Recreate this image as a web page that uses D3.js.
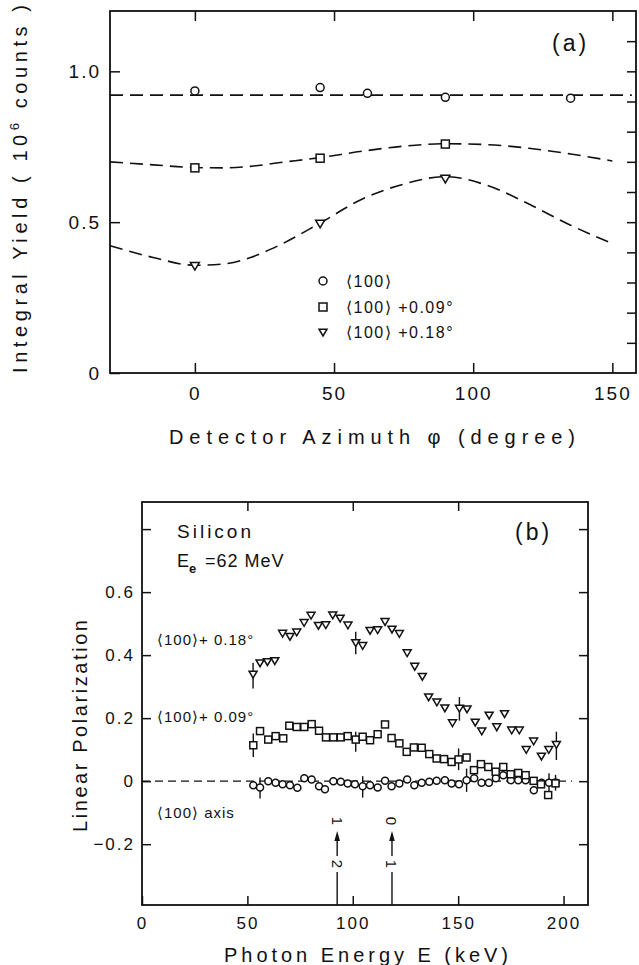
<!DOCTYPE html>
<html>
<head>
<meta charset="utf-8">
<script src="https://cdn.jsdelivr.net/npm/d3@7.9.0/dist/d3.min.js"></script>
<style>
  body { margin: 0; background: #fff; }
  svg { display: block; }
  text { font-family: "Liberation Sans", Arial, sans-serif; fill: #111; }
</style>
</head>
<body>
<svg id="chart" width="639" height="965"></svg>
<script>
// ---- panel (a): integral yield vs detector azimuth ----
const phiAxis = [0, 45, 62, 90, 135];
const yieldAxis = [0.935, 0.946, 0.927, 0.914, 0.911];
const phiTilt = [0, 45, 90];
const yield009 = [0.680, 0.712, 0.759];
const yield018 = [0.356, 0.496, 0.645];

// dashed fit curves
const fitPhiAxis = [-30.5, 157];
const fitAxis = [0.921, 0.921];
const fitPhi = [-30.5, -15, 0, 10, 20, 30, 45, 60, 75, 90, 105, 120, 135, 150];
const fit009 = [0.700, 0.690, 0.681, 0.680, 0.685, 0.697, 0.714, 0.735, 0.752, 0.760, 0.757, 0.745, 0.726, 0.703];
const fit018 = [0.422, 0.383, 0.357, 0.361, 0.383, 0.422, 0.497, 0.576, 0.626, 0.651, 0.622, 0.560, 0.490, 0.429];

const legendA = ['\u27E8100\u27E9', '\u27E8100\u27E9 +0.09\u00B0', '\u27E8100\u27E9 +0.18\u00B0'];

// ---- panel (b): linear polarization vs photon energy ----
const energy100 = [52.8, 56.0, 59.9, 63.4, 66.7, 70.2, 73.7, 77.0, 80.5, 84.0, 86.8, 90.8, 94.3, 97.6, 101.0, 104.7, 108.2, 111.8, 115.3, 118.4, 122.1, 125.8, 129.2, 132.7, 136.3, 139.8, 143.7, 146.9, 150.4, 154.0, 157.6, 161.1, 164.6, 167.9, 171.4, 175.0, 178.5, 182.0, 185.9, 189.6, 193.1, 196.2];
const pol100 = [-0.013, -0.020, 0.000, -0.005, -0.010, -0.013, -0.021, 0.009, 0.005, -0.016, -0.026, 0.000, -0.002, -0.007, -0.010, -0.016, -0.013, -0.020, 0.001, -0.016, -0.007, 0.005, -0.013, -0.005, -0.002, 0.001, 0.003, -0.007, -0.010, 0.003, 0.009, -0.005, -0.005, 0.009, 0.019, 0.003, 0.003, 0.003, -0.029, -0.005, -0.005, -0.004];

const energy009 = [52.8, 56.0, 59.9, 63.4, 67.0, 69.9, 73.4, 77.0, 80.5, 84.0, 87.3, 90.8, 94.3, 97.6, 101.4, 104.7, 108.2, 111.8, 115.3, 118.4, 122.1, 125.6, 129.0, 132.7, 136.3, 139.8, 143.3, 146.9, 150.2, 154.0, 157.5, 160.8, 164.3, 167.8, 171.4, 174.9, 178.5, 182.0, 185.8, 189.3, 192.7, 196.2];
const pol009 = [0.114, 0.159, 0.132, 0.143, 0.136, 0.176, 0.172, 0.172, 0.181, 0.160, 0.139, 0.139, 0.139, 0.143, 0.132, 0.141, 0.130, 0.149, 0.180, 0.137, 0.120, 0.093, 0.107, 0.106, 0.086, 0.072, 0.070, 0.061, 0.069, 0.075, 0.035, 0.054, 0.045, 0.030, 0.045, 0.022, 0.026, 0.019, 0.001, -0.010, -0.044, -0.007];

const energy018 = [52.7, 56.0, 59.5, 63.0, 66.7, 70.2, 73.4, 76.9, 80.2, 83.7, 87.2, 90.5, 94.0, 97.7, 101.4, 104.7, 108.2, 111.8, 115.3, 118.6, 122.1, 125.8, 129.4, 133.0, 136.0, 139.9, 143.7, 147.3, 150.6, 154.2, 158.1, 161.2, 164.7, 168.3, 172.0, 175.4, 179.0, 182.3, 185.8, 189.5, 193.0, 196.6];
const pol018 = [0.340, 0.376, 0.380, 0.383, 0.470, 0.460, 0.474, 0.504, 0.527, 0.495, 0.497, 0.528, 0.518, 0.496, 0.440, 0.431, 0.479, 0.481, 0.507, 0.483, 0.469, 0.408, 0.365, 0.333, 0.268, 0.252, 0.233, 0.186, 0.232, 0.230, 0.188, 0.160, 0.210, 0.173, 0.215, 0.163, 0.163, 0.101, 0.128, 0.080, 0.101, 0.117];

// error bars: [energy, low, high]
const err100 = [[56.0, -0.055, 0.012], [104.7, -0.052, 0.016], [154.0, -0.034, 0.040], [193.1, -0.050, 0.025]];
const err009 = [[52.8, 0.077, 0.151], [101.4, 0.093, 0.157], [150.2, 0.035, 0.104], [196.2, -0.030, 0.020]];
const err018 = [[52.7, 0.294, 0.376], [101.4, 0.403, 0.474], [150.6, 0.192, 0.267], [196.6, 0.067, 0.157]];

const seriesLabelsB = ['\u27E8100\u27E9+ 0.18\u00B0', '\u27E8100\u27E9+ 0.09\u00B0', '\u27E8100\u27E9 axis'];
const seriesLabelPol = [0.449, 0.204, -0.098];

// reflection markers
const arrowEnergy = [92.6, 118.6];
const arrowTop = ['1', '0'];
const arrowBottom = ['2', '1'];

const svg = d3.select('#chart');
const ink = '#111';

// marker helpers
function drawMarkers(g, xs, ys, x, y, kind, s) {
  const pts = xs.map((d, i) => [x(d), y(ys[i])]);
  const sel = g.selectAll(null).data(pts);
  if (kind === 'circle') {
    sel.join('circle').attr('cx', d => d[0]).attr('cy', d => d[1]).attr('r', s / 2);
  } else if (kind === 'square') {
    sel.join('rect').attr('x', d => d[0] - s / 2).attr('y', d => d[1] - s / 2)
      .attr('width', s).attr('height', s);
  } else {
    sel.join('path').attr('d', d =>
      `M${d[0] - s / 2},${d[1] - s * 0.35}L${d[0] + s / 2},${d[1] - s * 0.35}L${d[0]},${d[1] + s * 0.5}Z`);
  }
  g.selectAll('circle,rect,path').attr('fill', '#fff').attr('stroke', ink).attr('stroke-width', 1.5);
}

function styleAxis(g, size) {
  g.select('.domain').remove();
  g.selectAll('line').attr('stroke', ink).attr('stroke-width', 1.5);
  g.selectAll('text').style('font-size', size + 'px').style('letter-spacing', '2px').attr('fill', ink);
}

// ================= panel (a) =================
const xA = d3.scaleLinear().domain([-30.5, 158.5]).range([110, 636]);
const yA = d3.scaleLinear().domain([0, 1.2]).range([373, 11]);
const gA = svg.append('g');

gA.append('g').attr('transform', `translate(0,${yA(0)})`)
  .call(d3.axisBottom(xA).tickValues([0, 50, 100, 150]).tickSizeInner(-10).tickSizeOuter(0).tickPadding(14))
  .call(g => styleAxis(g, 19));
gA.append('g').attr('transform', `translate(0,${yA(1.2)})`)
  .call(d3.axisTop(xA).tickValues([0, 50, 100, 150]).tickSizeInner(-10).tickSizeOuter(0).tickFormat(''))
  .call(g => styleAxis(g, 19));
gA.append('g').attr('transform', `translate(${xA.range()[0]},0)`)
  .call(d3.axisLeft(yA).tickValues([0, 0.5, 1.0]).tickSizeInner(-10).tickSizeOuter(0).tickPadding(9)
    .tickFormat(d => d === 0 ? '0' : d3.format('.1f')(d)))
  .call(g => styleAxis(g, 19));
gA.append('g').attr('transform', `translate(${xA.range()[1]},0)`)
  .call(d3.axisRight(yA).tickValues(d3.range(1, 12).map(d => d / 10)).tickSizeInner(-9).tickSizeOuter(0).tickFormat(''))
  .call(g => styleAxis(g, 19));

gA.append('rect')
  .attr('x', xA.range()[0]).attr('y', yA(1.2))
  .attr('width', xA.range()[1] - xA.range()[0]).attr('height', yA(0) - yA(1.2))
  .attr('fill', 'none').attr('stroke', ink).attr('stroke-width', 1.8);

const lineA = d3.line().x(d => xA(d[0])).y(d => yA(d[1])).curve(d3.curveMonotoneX);
[[fitPhiAxis, fitAxis], [fitPhi, fit009], [fitPhi, fit018]].forEach(([xs, ys]) => {
  gA.append('path')
    .attr('d', lineA(xs.map((d, i) => [d, ys[i]])))
    .attr('fill', 'none').attr('stroke', ink).attr('stroke-width', 1.6)
    .attr('stroke-dasharray', '13,7');
});

drawMarkers(gA.append('g'), phiAxis, yieldAxis, xA, yA, 'circle', 8);
drawMarkers(gA.append('g'), phiTilt, yield009, xA, yA, 'square', 8);
drawMarkers(gA.append('g'), phiTilt, yield018, xA, yA, 'triangle', 9);

// legend (a)
const legRows = [281, 307, 332];
const legKinds = ['circle', 'square', 'triangle'];
legendA.forEach((t, i) => {
  const lg = gA.append('g');
  drawMarkers(lg, [0], [0], () => 323, () => legRows[i], legKinds[i], 8);
  gA.append('text').attr('x', 346).attr('y', legRows[i] + 5.5)
    .style('font-size', '16px').style('letter-spacing', '1.5px').text(t);
});

gA.append('text').attr('x', 552).attr('y', 51).style('font-size', '23px').style('letter-spacing', '3px').text('(a)');

gA.append('text').attr('x', 372).attr('y', 444).attr('text-anchor', 'middle')
  .attr('textLength', 406).attr('lengthAdjust', 'spacing')
  .style('font-size', '20px').text('Detector Azimuth \u03C6 (degree)');

const yTitleA = gA.append('text')
  .attr('transform', 'translate(27,189) rotate(-90)').attr('text-anchor', 'middle')
  .attr('textLength', 368).attr('lengthAdjust', 'spacing')
  .style('font-size', '20px');
yTitleA.append('tspan').text('Integral Yield ( 10');
yTitleA.append('tspan').attr('dy', -8).style('font-size', '13px').text('6');
yTitleA.append('tspan').attr('dy', 8).text(' counts )');

// ================= panel (b) =================
const xB = d3.scaleLinear().domain([0, 211.6]).range([142, 588]);
const yB = d3.scaleLinear().domain([-0.393, 0.886]).range([905, 502]);
const gB = svg.append('g');

gB.append('g').attr('transform', `translate(0,${yB.range()[0]})`)
  .call(d3.axisBottom(xB).tickValues([0, 50, 100, 150, 200]).tickSizeInner(-9).tickSizeOuter(0).tickPadding(12))
  .call(g => styleAxis(g, 17));
gB.append('g').attr('transform', `translate(0,${yB.range()[1]})`)
  .call(d3.axisTop(xB).tickValues([50, 100, 150]).tickSizeInner(-9).tickSizeOuter(0).tickFormat(''))
  .call(g => styleAxis(g, 17));
gB.append('g').attr('transform', `translate(${xB.range()[0]},0)`)
  .call(d3.axisLeft(yB).tickValues([-0.2, 0, 0.2, 0.4, 0.6, 0.8]).tickSizeInner(-9).tickSizeOuter(0).tickPadding(7)
    .tickFormat(d => d === 0 ? '0' : d === 0.8 ? '' : d3.format('.1f')(d)))
  .call(g => styleAxis(g, 17));
gB.append('g').attr('transform', `translate(${xB.range()[1]},0)`)
  .call(d3.axisRight(yB).tickValues([-0.2, 0, 0.2, 0.4, 0.6, 0.8]).tickSizeInner(-9).tickSizeOuter(0).tickFormat(''))
  .call(g => styleAxis(g, 17));

gB.append('rect')
  .attr('x', xB.range()[0]).attr('y', yB.range()[1])
  .attr('width', xB.range()[1] - xB.range()[0]).attr('height', yB.range()[0] - yB.range()[1])
  .attr('fill', 'none').attr('stroke', ink).attr('stroke-width', 1.8);

// zero line
gB.append('line')
  .attr('x1', xB(0)).attr('x2', xB(204)).attr('y1', yB(0)).attr('y2', yB(0))
  .attr('stroke', ink).attr('stroke-width', 1.4).attr('stroke-dasharray', '8,5');

// error bars
[err100, err009, err018].forEach(errs => {
  gB.append('g').selectAll('line').data(errs).join('line')
    .attr('x1', d => xB(d[0])).attr('x2', d => xB(d[0]))
    .attr('y1', d => yB(d[1])).attr('y2', d => yB(d[2]))
    .attr('stroke', ink).attr('stroke-width', 1.4);
});

drawMarkers(gB.append('g'), energy100, pol100, xB, yB, 'circle', 7);
drawMarkers(gB.append('g'), energy009, pol009, xB, yB, 'square', 7);
drawMarkers(gB.append('g'), energy018, pol018, xB, yB, 'triangle', 8);

// series labels
seriesLabelsB.forEach((t, i) => {
  gB.append('text').attr('x', 157).attr('y', yB(seriesLabelPol[i]) + 5.5)
    .style('font-size', '15px').style('letter-spacing', '1px').text(t);
});

gB.append('text').attr('x', 177).attr('y', 538).attr('textLength', 74).attr('lengthAdjust', 'spacing')
  .style('font-size', '19px').text('Silicon');
const eText = gB.append('text').attr('x', 177).attr('y', 567).style('font-size', '18px');
eText.append('tspan').text('E');
eText.append('tspan').attr('dy', 6).style('font-size', '13px').style('font-weight', 'bold').text('e');
eText.append('tspan').attr('dy', -6).attr('x', 205).style('letter-spacing', '1px').text('=62 MeV');

gB.append('text').attr('x', 515).attr('y', 540).style('font-size', '23px').style('letter-spacing', '3px').text('(b)');

// reflection arrows
arrowEnergy.forEach((e, i) => {
  const x = xB(e);
  gB.append('line').attr('x1', x).attr('x2', x).attr('y1', yB.range()[0]).attr('y2', 872)
    .attr('stroke', ink).attr('stroke-width', 1.4);
  gB.append('line').attr('x1', x).attr('x2', x).attr('y1', 856).attr('y2', 840)
    .attr('stroke', ink).attr('stroke-width', 1.4);
  gB.append('path').attr('d', `M${x},831L${x - 2.8},841L${x + 2.8},841Z`).attr('fill', ink);
  gB.append('text').attr('transform', `translate(${x},864) rotate(90)`)
    .attr('text-anchor', 'middle').attr('dominant-baseline', 'central')
    .style('font-size', '15px').text(arrowBottom[i]);
  gB.append('text').attr('transform', `translate(${x},821) rotate(90)`)
    .attr('text-anchor', 'middle').attr('dominant-baseline', 'central')
    .style('font-size', '15px').text(arrowTop[i]);
});

gB.append('text').attr('x', 366).attr('y', 962).attr('text-anchor', 'middle')
  .attr('textLength', 284).attr('lengthAdjust', 'spacing')
  .style('font-size', '20px').text('Photon Energy  E  (keV)');

gB.append('text').attr('transform', 'translate(87,726) rotate(-90)').attr('text-anchor', 'middle')
  .attr('textLength', 212).attr('lengthAdjust', 'spacing')
  .style('font-size', '20px').text('Linear Polarization');
</script>
</body>
</html>
